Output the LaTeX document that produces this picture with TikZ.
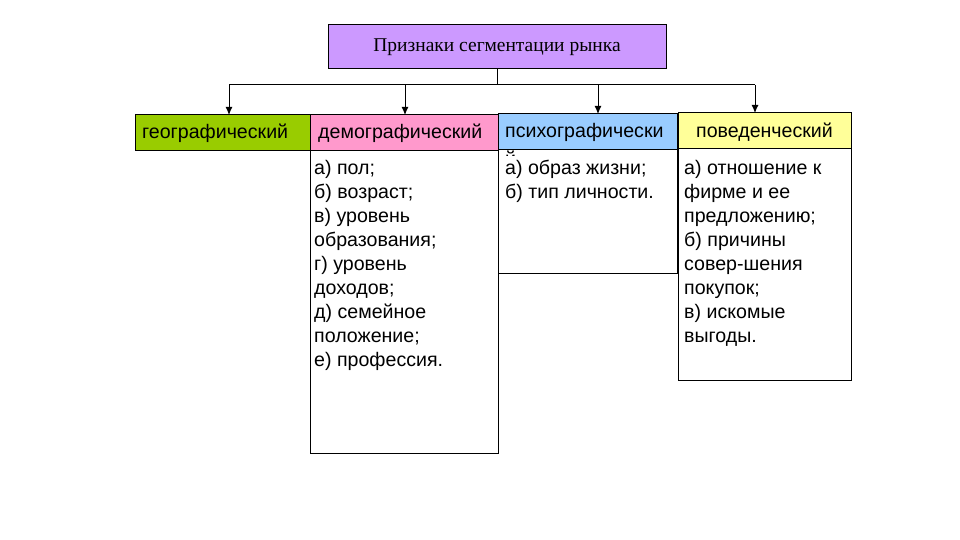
\documentclass[tikz,border=0pt]{standalone}
\usepackage{fontspec}
\setmainfont{Liberation Sans}
\newfontfamily\titlefont{Liberation Serif}
\definecolor{cTitle}{HTML}{CC99FF}
\definecolor{cGeo}{HTML}{99CC00}
\definecolor{cDemo}{HTML}{FF99CC}
\definecolor{cPsy}{HTML}{99CCFF}
\definecolor{cBeh}{HTML}{FFFF99}
\tikzset{
  box/.style={draw=black, line width=1pt, rectangle, inner sep=0pt, outer sep=0pt},
  txt/.style={anchor=north west, align=left, inner sep=0pt, font=\fontsize{19.6}{24}\selectfont},
  htxt/.style={anchor=base west, inner sep=0pt, font=\fontsize{19.6}{24}\selectfont},
  conn/.style={line width=1pt},
  arr/.style={line width=1pt, -{Latex[length=8pt,width=7pt]}},
}
\usetikzlibrary{arrows.meta}
\begin{document}
\begin{tikzpicture}[x=1pt,y=-1pt]
\useasboundingbox (0,0) rectangle (960,540);
% title
\node[box, fill=cTitle, minimum width=338pt, minimum height=44pt, font=\titlefont\fontsize{19.5}{22}\selectfont] (title) at (497,47) {Признаки сегментации рынка};
% headers
\node[box, fill=cGeo, minimum width=175pt, minimum height=36pt] (geo) at (222.5,133) {};
\node[box, fill=cDemo, minimum width=188pt, minimum height=36pt] (demo) at (404,133) {};
\node[box, minimum width=188pt, minimum height=302pt] (democ) at (404,302) {};
\node[box, fill=cPsy, minimum width=179pt, minimum height=36pt] (psy) at (587.5,132) {};
\node[box, minimum width=179pt, minimum height=123pt] (psyc) at (587.5,211.5) {};
\node[box, fill=cBeh, minimum width=173pt, minimum height=36pt] (beh) at (764.5,131) {};
\node[box, minimum width=173pt, minimum height=231pt] (behc) at (764.5,264.5) {};
% header texts
\node[htxt] (geot) at (142,139) {географический};
\node[htxt] (demot) at (318,139) {демографический};
\node[htxt] (psyt) at (505,138) {психографически};
\begin{scope}
\clip (498,150) rectangle (677,156);
\node[htxt] (psyj) at (505,166) {й};
\end{scope}
\node[htxt, anchor=base] (beht) at (764.5,138) {поведенческий};
% content texts
\node[txt] (demotxt) at (314,160) {а) пол;\\б) возраст;\\в) уровень\\образования;\\г) уровень\\доходов;\\д) семейное\\положение;\\е) профессия.};
\node[txt] (psytxt) at (505,160) {а) образ жизни;\\б) тип личности.};
\node[txt] (behtxt) at (684,160) {а) отношение к\\фирме и ее\\предложению;\\б) причины\\совер-шения\\покупок;\\в) искомые\\выгоды.};
% connectors
\coordinate (b1) at (229,85);
\coordinate (b2) at (405,85);
\coordinate (b3) at (598,85);
\coordinate (b4) at (755,85);
\draw[conn] (title.south) -- (title.south |- b1);
\draw[conn] (b1) -- (b4);
\draw[arr] (b1) -- (b1 |- geo.north);
\draw[arr] (b2) -- (b2 |- demo.north);
\draw[arr] (b3) -- (b3 |- psy.north);
\draw[arr] (b4) -- (b4 |- beh.north);
\end{tikzpicture}
\end{document}
